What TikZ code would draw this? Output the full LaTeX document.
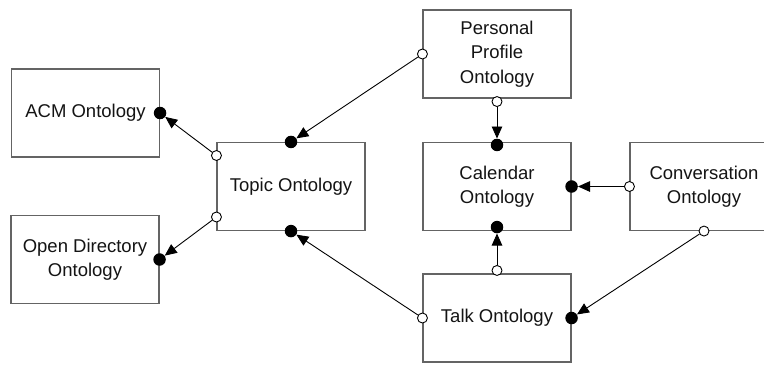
\documentclass[tikz,border=0pt]{standalone}
\usepackage{fontspec}
\setmainfont{Liberation Sans}
\usetikzlibrary{arrows.meta,positioning}
\definecolor{boxgray}{RGB}{100,100,100}
\definecolor{txtblack}{RGB}{20,20,20}

\begin{document}
\begin{tikzpicture}[x=1pt, y=-1pt, >={Triangle[length=12pt,width=10.5pt]},
  onto/.style={draw=boxgray, line width=1.1pt, fill=white, minimum width=148pt, minimum height=88pt,
    align=center, text=txtblack, font=\fontsize{18.5}{24.5}\selectfont, inner sep=0pt},
  port/.style={circle, draw=black, fill=white, line width=0.9pt, minimum size=10pt, inner sep=0pt},
  dot/.style={circle, fill=black, minimum size=12.5pt, inner sep=0pt},
  link/.style={->, black, line width=0.9pt}]
  \clip (0,0) rectangle (764,365);
  % ontology boxes
  \node[onto] (acm) at (85.5,113) {ACM Ontology};
  \node[onto] (odo) at (85,259.5) {Open Directory\\Ontology};
  \node[onto] (topic) at (291,186.5) {Topic Ontology};
  \node[onto] (profile) at (497,54) {Personal\\Profile\\Ontology};
  \node[onto] (calendar) at (497,186.5) {Calendar\\Ontology};
  \node[onto] (conv) at (704,186.5) {Conversation\\Ontology};
  \node[onto] (talk) at (497,318) {Talk Ontology};
  % open ports (uses)
  \node[port] (topicA) at ([yshift=31pt]topic.west) {};
  \node[port] (topicB) at ([yshift=-30.5pt]topic.west) {};
  \node[port] (profileW) at (profile.west) {};
  \node[port] (profileS) at ([yshift=-3pt]profile.south) {};
  \node[port] (convW) at (conv.west) {};
  \node[port] (convS) at (conv.south) {};
  \node[port] (talkN) at ([yshift=3pt]talk.north) {};
  \node[port] (talkW) at (talk.west) {};
  % filled ports (used by)
  \node[dot] (acmE) at (acm.east) {};
  \node[dot] (odoE) at (odo.east) {};
  \node[dot] (topicN) at (topic.north) {};
  \node[dot] (topicS) at (topic.south) {};
  \node[dot] (calN) at ([yshift=-3pt]calendar.north) {};
  \node[dot] (calE) at (calendar.east) {};
  \node[dot] (calS) at ([yshift=4pt]calendar.south) {};
  \node[dot] (talkE) at (talk.east) {};
  % links
  \draw[link] (topicA) -- (acmE);
  \draw[link] (topicB) -- (odoE);
  \draw[link] (profileW) -- (topicN);
  \draw[link] (profileS) -- (calN);
  \draw[link] (convW) -- (calE);
  \draw[link] (talkN) -- (calS);
  \draw[link] (talkW) -- (topicS);
  \draw[link] (convS) -- (talkE);
\end{tikzpicture}
\end{document}
